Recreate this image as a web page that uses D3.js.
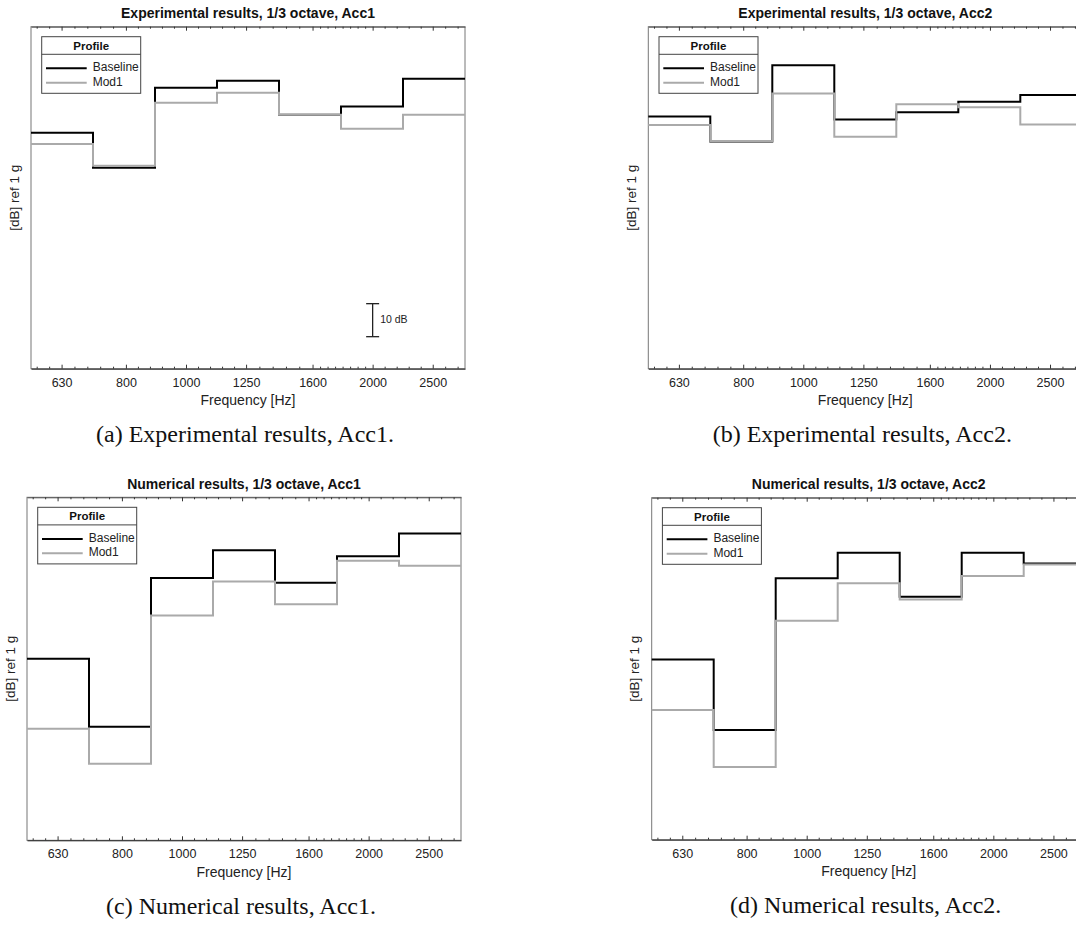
<!DOCTYPE html>
<html><head><meta charset="utf-8">
<script src="https://cdn.jsdelivr.net/npm/d3@7"></script>
<style>
html,body{margin:0;padding:0;background:#fff;}
svg{display:block;}
</style></head>
<body>
<svg id="chart" width="1076" height="930"></svg>
<script>
// ---- data ----
const bandCenters = [630, 800, 1000, 1250, 1600, 2000, 2500];
const tickLabels = ["630", "800", "1000", "1250", "1600", "2000", "2500"];
const seriesNames = ["Baseline", "Mod1"];
// levels in dB ref 1 g per 1/3 octave band
const expAcc1Baseline = [-32.1, -42.7, -18.5, -16.4, -26.7, -24.2, -15.8];
const expAcc1Mod1     = [-35.5, -42.1, -23.0, -20.0, -26.7, -30.9, -26.7];
const expAcc2Baseline = [-27.2, -34.8, -11.7, -28.1, -25.9, -22.7, -20.7];
const expAcc2Mod1     = [-29.8, -34.6, -20.2, -33.3, -23.5, -24.4, -29.6];
const numAcc1Baseline = [-48.8, -69.3, -24.4, -16.0, -25.8, -17.8, -10.9];
const numAcc1Mod1     = [-69.9, -80.5, -35.7, -25.4, -32.3, -19.2, -20.7];
const numAcc2Baseline = [-49.0, -70.4, -24.4, -16.7, -30.0, -16.7, -19.9];
const numAcc2Mod1     = [-64.3, -81.6, -37.3, -25.9, -30.8, -23.7, -20.2];
const titles = ["Experimental results, 1/3 octave, Acc1", "Experimental results, 1/3 octave, Acc2",
                "Numerical results, 1/3 octave, Acc1", "Numerical results, 1/3 octave, Acc2"];
const captions = ["(a) Experimental results, Acc1.", "(b) Experimental results, Acc2.",
                  "(c) Numerical results, Acc1.", "(d) Numerical results, Acc2."];
// minor tick subdivisions of each interval: [500..630], [630..800], ..., [2500..3150]
const minorBounds = [500, 630, 800, 1000, 1250, 1600, 2000, 2500, 3150];
const minorDivisions = [5, 5, 5, 5, 5, 8, 5, 5];
const yDomain = [-103.6, 0];
const scaleBarFreq = 2000, scaleBarTop = -83.9, scaleBarSize = 10;

// ---- layout ----
const panels = [
  {left: 31,    top: 26.7,  w: 434, h: 342, base: expAcc1Baseline, mod: expAcc1Mod1, bar: true},
  {left: 648.3, top: 26.7,  w: 434, h: 342, base: expAcc2Baseline, mod: expAcc2Mod1, bar: false},
  {left: 27,    top: 497.3, w: 434, h: 343, base: numAcc1Baseline, mod: numAcc1Mod1, bar: false},
  {left: 651.7, top: 497.7, w: 434, h: 342, base: numAcc2Baseline, mod: numAcc2Mod1, bar: false}
];

const svg = d3.select("#chart");
const FONT = "'Liberation Sans', Arial, Helvetica, sans-serif";

// band edges (1/3 octave, base-10)
const edges = d3.range(8).map(i => Math.pow(10, 2.75 + 0.1 * i));

const minors = [];
for (let i = 0; i < minorBounds.length - 1; i++) {
  const a = Math.log10(minorBounds[i]), b = Math.log10(minorBounds[i + 1]), n = minorDivisions[i];
  for (let j = 1; j < n; j++) minors.push(Math.pow(10, a + (b - a) * j / n));
}
const minorIn = minors.filter(f => f > edges[0] * 1.01 && f < edges[7] / 1.01);

panels.forEach((p, k) => {
  const g = svg.append("g").attr("transform", `translate(${p.left},${p.top})`);
  const x = d3.scaleLog().domain([edges[0], edges[7]]).range([0, p.w]);
  const y = d3.scaleLinear().domain(yDomain).range([p.h, 0]);

  // frame
  g.append("rect").attr("x", 0).attr("y", 0).attr("width", p.w).attr("height", p.h)
    .attr("fill", "none").attr("stroke", "#777").attr("stroke-width", 1);

  // bottom axis
  const xAxis = d3.axisBottom(x).tickValues(bandCenters).tickFormat((d, i) => tickLabels[i])
    .tickSizeInner(-4).tickSizeOuter(0).tickPadding(9);
  const ax = g.append("g").attr("transform", `translate(0,${p.h})`).call(xAxis);
  ax.select(".domain").attr("stroke", "#222");
  ax.selectAll(".tick line").attr("stroke", "#333");
  ax.selectAll("text").attr("font-family", FONT).attr("font-size", "12.5px").attr("fill", "#222");
  const axm = g.append("g").attr("transform", `translate(0,${p.h})`)
    .call(d3.axisBottom(x).tickValues(minorIn).tickFormat("").tickSizeInner(-2).tickSizeOuter(0));
  axm.select(".domain").remove();
  axm.selectAll(".tick line").attr("stroke", "#333");

  // top ticks
  const at = g.append("g").call(d3.axisTop(x).tickValues(bandCenters).tickFormat("").tickSizeInner(-4).tickSizeOuter(0));
  at.select(".domain").attr("stroke", "#555");
  at.selectAll(".tick line").attr("stroke", "#333");
  const atm = g.append("g").call(d3.axisTop(x).tickValues(minorIn).tickFormat("").tickSizeInner(-2).tickSizeOuter(0));
  atm.select(".domain").remove();
  atm.selectAll(".tick line").attr("stroke", "#333");

  // step lines
  const line = d3.line().x(d => x(d[0])).y(d => y(d[1])).curve(d3.curveStepAfter);
  const pts = vals => vals.map((v, i) => [edges[i], v]).concat([[edges[7], vals[vals.length - 1]]]);
  g.append("path").attr("d", line(pts(p.base))).attr("fill", "none").attr("stroke", "#000").attr("stroke-width", 2);
  g.append("path").attr("d", line(pts(p.mod))).attr("fill", "none").attr("stroke", "#aaa").attr("stroke-width", 2);

  // title
  g.append("text").attr("x", p.w / 2).attr("y", -12).attr("text-anchor", "middle").attr("dominant-baseline", "middle")
    .attr("font-family", FONT).attr("font-weight", "bold").attr("font-size", "14px").attr("fill", "#111").text(titles[k]);
  // x label
  g.append("text").attr("x", p.w / 2).attr("y", p.h + 33).attr("text-anchor", "middle").attr("dominant-baseline", "middle")
    .attr("font-family", FONT).attr("font-size", "14px").attr("fill", "#222").text("Frequency [Hz]");
  // y label
  g.append("text").attr("transform", `translate(-16,${p.h / 2}) rotate(-90)`).attr("text-anchor", "middle")
    .attr("dominant-baseline", "middle").attr("font-family", FONT).attr("font-size", "13.5px").attr("fill", "#222")
    .text("[dB] ref 1 g");
  // caption
  g.append("text").attr("x", p.w / 2 - 3).attr("y", p.h + 68).attr("text-anchor", "middle").attr("dominant-baseline", "middle")
    .attr("font-family", "'Liberation Serif', 'Times New Roman', serif").attr("font-size", "24px").attr("fill", "#111").text(captions[k]);

  // legend
  const lg = g.append("g").attr("transform", "translate(10.7,10)");
  lg.append("rect").attr("width", 99).attr("height", 56.6).attr("fill", "#fff").attr("stroke", "#444").attr("stroke-width", 1);
  lg.append("line").attr("x1", 0).attr("x2", 99).attr("y1", 17.6).attr("y2", 17.6).attr("stroke", "#444");
  lg.append("text").attr("x", 49.5).attr("y", 10).attr("text-anchor", "middle").attr("dominant-baseline", "middle")
    .attr("font-family", FONT).attr("font-weight", "bold").attr("font-size", "11.5px").attr("fill", "#111").text("Profile");
  const legColors = ["#000", "#aaa"];
  seriesNames.forEach((n, i) => {
    const yy = 31.6 + i * 14.4;
    lg.append("line").attr("x1", 4.3).attr("x2", 45).attr("y1", yy).attr("y2", yy)
      .attr("stroke", legColors[i]).attr("stroke-width", 2);
    lg.append("text").attr("x", 51).attr("y", yy).attr("dominant-baseline", "middle")
      .attr("font-family", FONT).attr("font-size", "12px").attr("fill", "#222").text(n);
  });

  // scale bar
  if (p.bar) {
    const bx = x(scaleBarFreq), y1 = y(scaleBarTop), y2 = y(scaleBarTop - scaleBarSize);
    const sb = g.append("g").attr("stroke", "#222").attr("stroke-width", 1.3);
    sb.append("line").attr("x1", bx).attr("x2", bx).attr("y1", y1).attr("y2", y2);
    sb.append("line").attr("x1", bx - 6.5).attr("x2", bx + 6.5).attr("y1", y1).attr("y2", y1);
    sb.append("line").attr("x1", bx - 6.5).attr("x2", bx + 6.5).attr("y1", y2).attr("y2", y2);
    g.append("text").attr("x", bx + 7.5).attr("y", (y1 + y2) / 2).attr("dominant-baseline", "middle")
      .attr("font-family", FONT).attr("font-size", "10.5px").attr("fill", "#222").text(scaleBarSize + " dB");
  }
});
</script>
</body></html>
